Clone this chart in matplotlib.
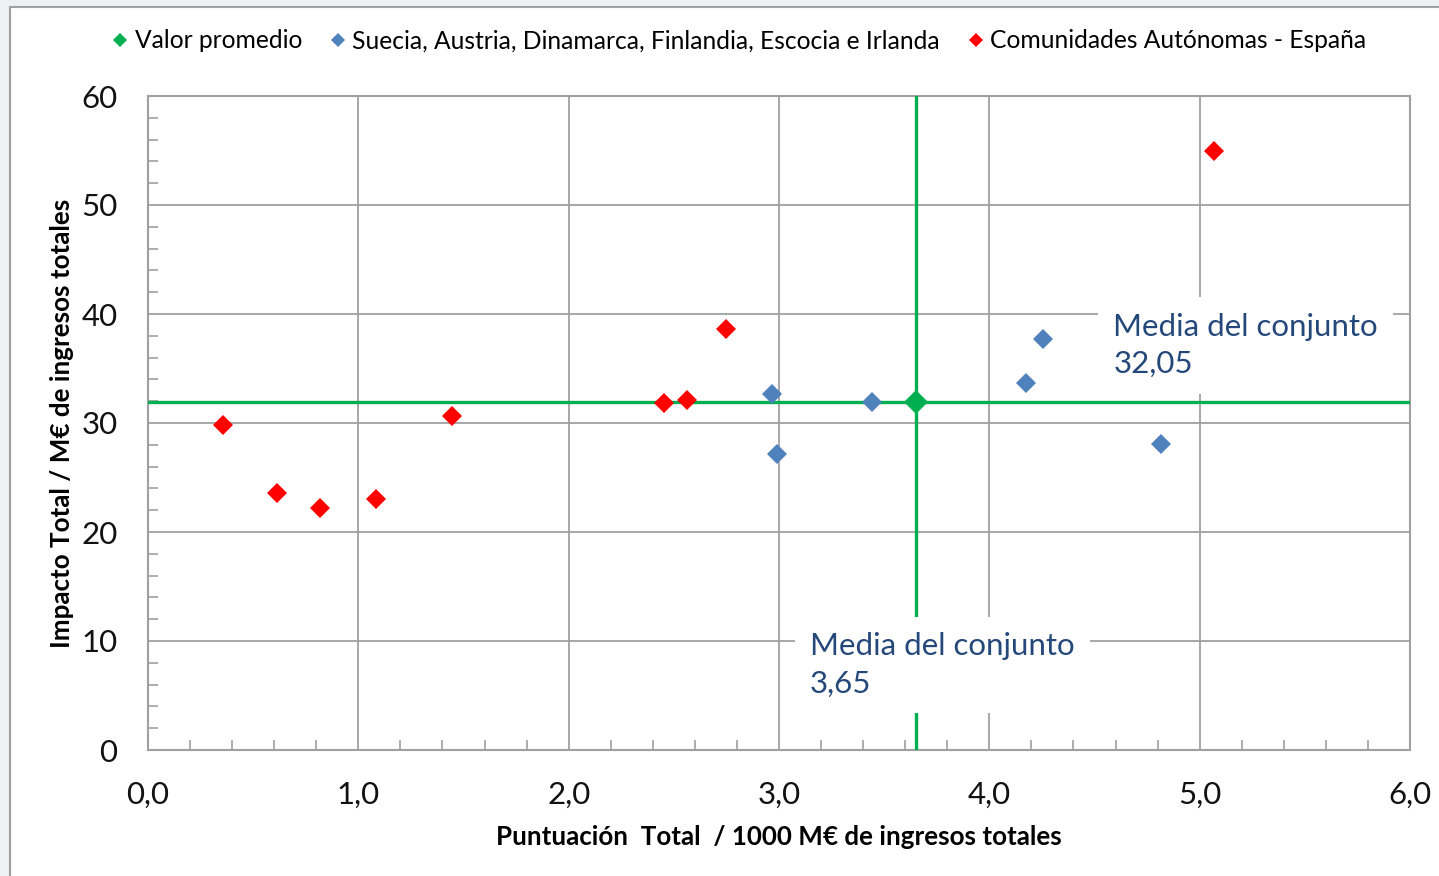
import matplotlib
matplotlib.use("Agg")
import matplotlib.pyplot as plt
from matplotlib.lines import Line2D
from matplotlib.patches import Rectangle
from matplotlib.ticker import MultipleLocator, FuncFormatter

# ---- data ----
spain_x = [0.355, 0.612, 0.818, 1.084, 1.444, 2.454, 2.563, 2.747, 5.067]
spain_y = [29.8, 23.55, 22.2, 23.0, 30.6, 31.87, 32.15, 38.6, 54.98]
europe_x = [2.967, 2.991, 3.441, 4.173, 4.255, 4.815]
europe_y = [32.7, 27.2, 31.9, 33.7, 37.7, 28.1]
avg_x = [3.65]
avg_y = [31.9]
avg_x_label = "Media del conjunto\n3,65"
avg_y_label = "Media del conjunto\n32,05"
series_labels = ["Valor promedio",
                 "Suecia, Austria, Dinamarca, Finlandia, Escocia e Irlanda",
                 "Comunidades Autónomas - España"]
x_title = "Puntuación  Total  / 1000 M€ de ingresos totales"
y_title = "Impacto Total / M€ de ingresos totales"

GREEN = "#00B050"
BLUE = "#4F81BD"
RED = "#FF0000"
GRID = "#A0A0A0"
ANN = "#24487A"

plt.rcParams['font.family'] = ['Lato', 'DejaVu Sans']

fig = plt.figure(figsize=(14.39, 8.76), dpi=100)
fig.patch.set_facecolor("#EEF0F2")
fig.patches.append(Rectangle((10/1439, -0.01), 1.0, 1 - 7/876 + 0.01,
                             transform=fig.transFigure, facecolor="white",
                             edgecolor="#A0A0A0", linewidth=1.5, zorder=-10))

ax = fig.add_axes([148/1439, 1 - 750/876, (1410 - 148)/1439, (750 - 96)/876])
ax.set_zorder(1)
ax.set_xlim(0, 6)
ax.set_ylim(0, 60)
ax.xaxis.set_major_locator(MultipleLocator(1))
ax.xaxis.set_minor_locator(MultipleLocator(0.2))
ax.yaxis.set_major_locator(MultipleLocator(10))
ax.yaxis.set_minor_locator(MultipleLocator(2))
ax.xaxis.set_major_formatter(FuncFormatter(lambda v, p: f"{v:.1f}".replace(".", ",")))
ax.yaxis.set_major_formatter(FuncFormatter(lambda v, p: f"{v:.0f}"))
ax.grid(True, which="major", color=GRID, linewidth=1.3, zorder=0)
ax.set_axisbelow(True)
for s in ax.spines.values():
    s.set_color(GRID)
    s.set_linewidth(1.5)
ax.tick_params(which="major", length=0, labelsize=22.5, labelcolor="#111111")
ax.tick_params(axis="y", which="major", pad=22)
ax.tick_params(axis="x", which="major", pad=22)
ax.tick_params(which="minor", direction="in", length=7, width=1.2, color=GRID)

# mean lines
ax.axhline(avg_y[0], color=GREEN, linewidth=2.4, zorder=3)
ax.axvline(avg_x[0], color=GREEN, linewidth=2.4, zorder=3)

ax.plot(spain_x, spain_y, linestyle="none", marker="D", ms=10.5, color=RED,
        markeredgewidth=0, zorder=4)
ax.plot(europe_x, europe_y, linestyle="none", marker="D", ms=10.5, color=BLUE,
        markeredgewidth=0, zorder=4)
ax.plot(avg_x, avg_y, linestyle="none", marker="D", ms=12.5, color=GREEN,
        markeredgewidth=0, zorder=5)

bbox = dict(boxstyle="square,pad=0.5", facecolor="white", edgecolor="none")
ax.text(3.148, 7.8, avg_x_label, fontsize=22.5, color=ANN, va="center", ha="left",
        linespacing=1.4, bbox=bbox, zorder=6)
ax.text(4.589, 37.1, avg_y_label, fontsize=22.5, color=ANN, va="center", ha="left",
        linespacing=1.4, bbox=bbox, zorder=6)

ax.set_xlabel(x_title, fontsize=18.7, fontweight="bold", labelpad=12)
ax.set_ylabel(y_title, fontsize=18.7, fontweight="bold", labelpad=5)

handles = [Line2D([], [], linestyle="none", marker="D", ms=7, color=c, markeredgewidth=0)
           for c in (GREEN, BLUE, RED)]
fig.legend(handles, series_labels, loc="center", bbox_to_anchor=(737/1439, 1 - 41/876),
           ncol=3, frameon=False, fontsize=17.7, handletextpad=0.1, columnspacing=0.95,
           handlelength=1.0)

fig.savefig("out.png", dpi=100, facecolor=fig.get_facecolor())
